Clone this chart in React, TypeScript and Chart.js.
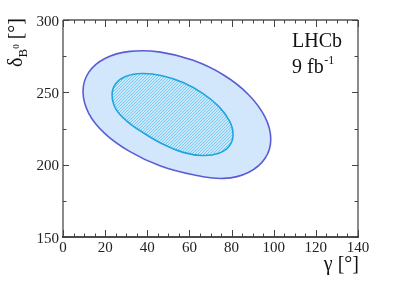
import React, { useEffect, useRef } from "react";
import { Chart, registerables } from "chart.js";
Chart.register(...registerables);

// Contour points (gamma [deg], delta_B0 [deg]); first point repeated at the end
const outerGamma = [98.6, 95.9, 88.2, 76.4, 61.8, 46.3, 31.8, 19.9, 12.2, 9.5, 12.2, 19.9, 31.8, 46.3, 61.8, 76.4, 88.2, 95.9, 98.6];
const outerDelta = [217.6, 232.8, 248.2, 261.8, 272.1, 277.8, 278.3, 273.4, 263.8, 250.7, 235.5, 221.5, 209.0, 199.0, 193.0, 190.5, 194.8, 204.4, 217.6];
const innerGamma = [80.7, 79.0, 74.0, 66.3, 57.0, 47.0, 37.6, 30.0, 25.0, 23.3, 25.0, 30.0, 37.6, 47.0, 57.0, 66.3, 74.0, 79.0, 80.7];
const innerDelta = [220.8, 230.2, 240.1, 249.3, 256.8, 261.5, 263.0, 261.1, 255.9, 248.2, 238.8, 230.5, 222.5, 214.5, 208.5, 206.3, 207.9, 213.1, 220.8];

const xMajorTicks = [0, 20, 40, 60, 80, 100, 120, 140];
const xMinorTicks = [5, 10, 15, 25, 30, 35, 45, 50, 55, 65, 70, 75, 85, 90, 95, 105, 110, 115, 125, 130, 135];
const yMajorTicks = [150, 200, 250, 300];
const yMinorTicks = [175, 225, 275];

const X_MIN = 0, X_MAX = 140, Y_MIN = 150, Y_MAX = 300;
const SERIF = '"Liberation Serif", "DejaVu Serif", serif';

function loopPoints(xs: number[], ys: number[]) {
  const n = xs.length - 1; // drop duplicated closing point
  const pts: { x: number; y: number }[] = [];
  pts.push({ x: xs[n - 1], y: ys[n - 1] });
  for (let i = 0; i < n; i++) pts.push({ x: xs[i], y: ys[i] });
  pts.push({ x: xs[0], y: ys[0] });
  pts.push({ x: xs[1], y: ys[1] });
  return pts;
}

function makeHatch(): CanvasPattern | string {
  const c = document.createElement("canvas");
  c.width = 3;
  c.height = 3;
  const g = c.getContext("2d");
  if (!g) return "#bfe3f8";
  const img = g.createImageData(3, 3);
  for (let y = 0; y < 3; y++) {
    for (let x = 0; x < 3; x++) {
      const i = (y * 3 + x) * 4;
      const line = (x + y) % 3 === 0;
      const col = line ? [120, 200, 240] : [203, 232, 251];
      img.data[i] = col[0];
      img.data[i + 1] = col[1];
      img.data[i + 2] = col[2];
      img.data[i + 3] = 255;
    }
  }
  g.putImageData(img, 0, 0);
  const p = g.createPattern(c, "repeat");
  return p || "#bfe3f8";
}

const axesPlugin = {
  id: "rootAxes",
  afterDraw(chart: any) {
    const { ctx, chartArea: a, scales } = chart;
    const xs = scales.x;
    const ys = scales.y;
    ctx.save();
    // frame
    ctx.strokeStyle = "#8a8a8a";
    ctx.lineWidth = 2;
    ctx.beginPath();
    ctx.moveTo(a.left, a.top);
    ctx.lineTo(a.left, a.bottom);
    ctx.moveTo(a.right, a.top);
    ctx.lineTo(a.right, a.bottom);
    ctx.stroke();
    ctx.strokeStyle = "#555";
    ctx.lineWidth = 1.5;
    ctx.beginPath();
    ctx.moveTo(a.left, a.top);
    ctx.lineTo(a.right, a.top);
    ctx.stroke();
    ctx.strokeStyle = "#111";
    ctx.beginPath();
    ctx.moveTo(a.left - 1, a.bottom);
    ctx.lineTo(a.right + 1, a.bottom);
    ctx.stroke();

    // ticks
    ctx.strokeStyle = "#444";
    ctx.lineWidth = 1;
    const xTick = (v: number, len: number) => {
      const px = Math.round(xs.getPixelForValue(v)) + 0.5;
      ctx.beginPath();
      ctx.moveTo(px, a.bottom);
      ctx.lineTo(px, a.bottom - len);
      ctx.moveTo(px, a.top);
      ctx.lineTo(px, a.top + len);
      ctx.stroke();
    };
    xMajorTicks.forEach((v) => xTick(v, 7));
    xMinorTicks.forEach((v) => xTick(v, 3.5));
    const yTick = (v: number, len: number) => {
      const py = Math.round(ys.getPixelForValue(v)) + 0.5;
      ctx.beginPath();
      ctx.moveTo(a.left, py);
      ctx.lineTo(a.left + len, py);
      ctx.moveTo(a.right, py);
      ctx.lineTo(a.right - len, py);
      ctx.stroke();
    };
    yMajorTicks.forEach((v) => yTick(v, 6));
    yMinorTicks.forEach((v) => yTick(v, 3.5));

    // tick labels
    ctx.fillStyle = "#222";
    ctx.font = `15px ${SERIF}`;
    ctx.textAlign = "center";
    ctx.textBaseline = "alphabetic";
    xMajorTicks.forEach((v) => {
      ctx.fillText(String(v), xs.getPixelForValue(v), a.bottom + 15);
    });
    ctx.textAlign = "right";
    yMajorTicks.forEach((v) => {
      ctx.fillText(String(v), a.left - 4, ys.getPixelForValue(v) + 5.5);
    });

    // x title
    ctx.fillStyle = "#111";
    ctx.font = `20px ${SERIF}`;
    ctx.textAlign = "right";
    ctx.fillText("γ [°]", a.right + 1, 269.5);

    // y title (rotated)
    ctx.save();
    ctx.translate(22, 18);
    ctx.rotate(-Math.PI / 2);
    ctx.textAlign = "left";
    const fMain = `20px ${SERIF}`;
    const fSub = `13px ${SERIF}`;
    const fSup = `9px ${SERIF}`;
    ctx.font = fMain;
    const wD = ctx.measureText("δ").width;
    const wRest = ctx.measureText(" [°]").width;
    ctx.font = fSub;
    const wB = ctx.measureText("B").width;
    ctx.font = fSup;
    const w0 = ctx.measureText("0").width;
    const total = wD + wB + w0 + wRest;
    let x = -total;
    ctx.font = fMain;
    ctx.fillText("δ", x, 0);
    x += wD;
    ctx.font = fSub;
    ctx.fillText("B", x, 5);
    x += wB;
    ctx.font = fSup;
    ctx.fillText("0", x, -3);
    x += w0;
    ctx.font = fMain;
    ctx.fillText(" [°]", x, 0);
    ctx.restore();

    // LHCb label
    ctx.font = `20px ${SERIF}`;
    ctx.textAlign = "left";
    ctx.fillText("LHCb", 292, 47);
    ctx.fillText("9 fb", 292, 73);
    const w9 = ctx.measureText("9 fb").width;
    ctx.font = `12px ${SERIF}`;
    ctx.fillText("-1", 292 + w9 + 0.5, 64);
    ctx.restore();
  },
};

export default function App() {
  const ref = useRef<HTMLCanvasElement | null>(null);
  useEffect(() => {
    document.body.style.margin = "0";
    const canvas = ref.current;
    if (!canvas) return;
    const inner = loopPoints(innerGamma, innerDelta);
    const outer = loopPoints(outerGamma, outerDelta);
    const hideEnds = (len: number) => (c: any) =>
      c.p0DataIndex === 0 || c.p1DataIndex === len - 1 ? "rgba(0,0,0,0)" : undefined;
    const chart = new Chart(canvas, {
      type: "scatter",
      data: {
        datasets: [
          {
            label: "inner",
            data: inner,
            showLine: true,
            tension: 0.4,
            pointRadius: 0,
            borderColor: "#1ea6e0",
            borderWidth: 1.6,
            backgroundColor: makeHatch() as any,
            fill: "shape",
            segment: { borderColor: hideEnds(inner.length) },
          } as any,
          {
            label: "outer",
            data: outer,
            showLine: true,
            tension: 0.4,
            pointRadius: 0,
            borderColor: "#5c5cd6",
            borderWidth: 1.6,
            backgroundColor: "rgb(211,231,252)",
            fill: "shape",
            segment: { borderColor: hideEnds(outer.length) },
          } as any,
        ],
      },
      options: {
        animation: false,
        responsive: false,
        devicePixelRatio: 1,
        layout: { padding: { left: 63, right: 41, top: 20, bottom: 49 } },
        plugins: { legend: { display: false }, tooltip: { enabled: false } },
        scales: {
          x: { type: "linear", min: X_MIN, max: X_MAX, display: false },
          y: { type: "linear", min: Y_MIN, max: Y_MAX, display: false },
        },
      },
      plugins: [axesPlugin],
    });
    return () => chart.destroy();
  }, []);
  return <canvas ref={ref} width={399} height={286} style={{ display: "block" }} />;
}
